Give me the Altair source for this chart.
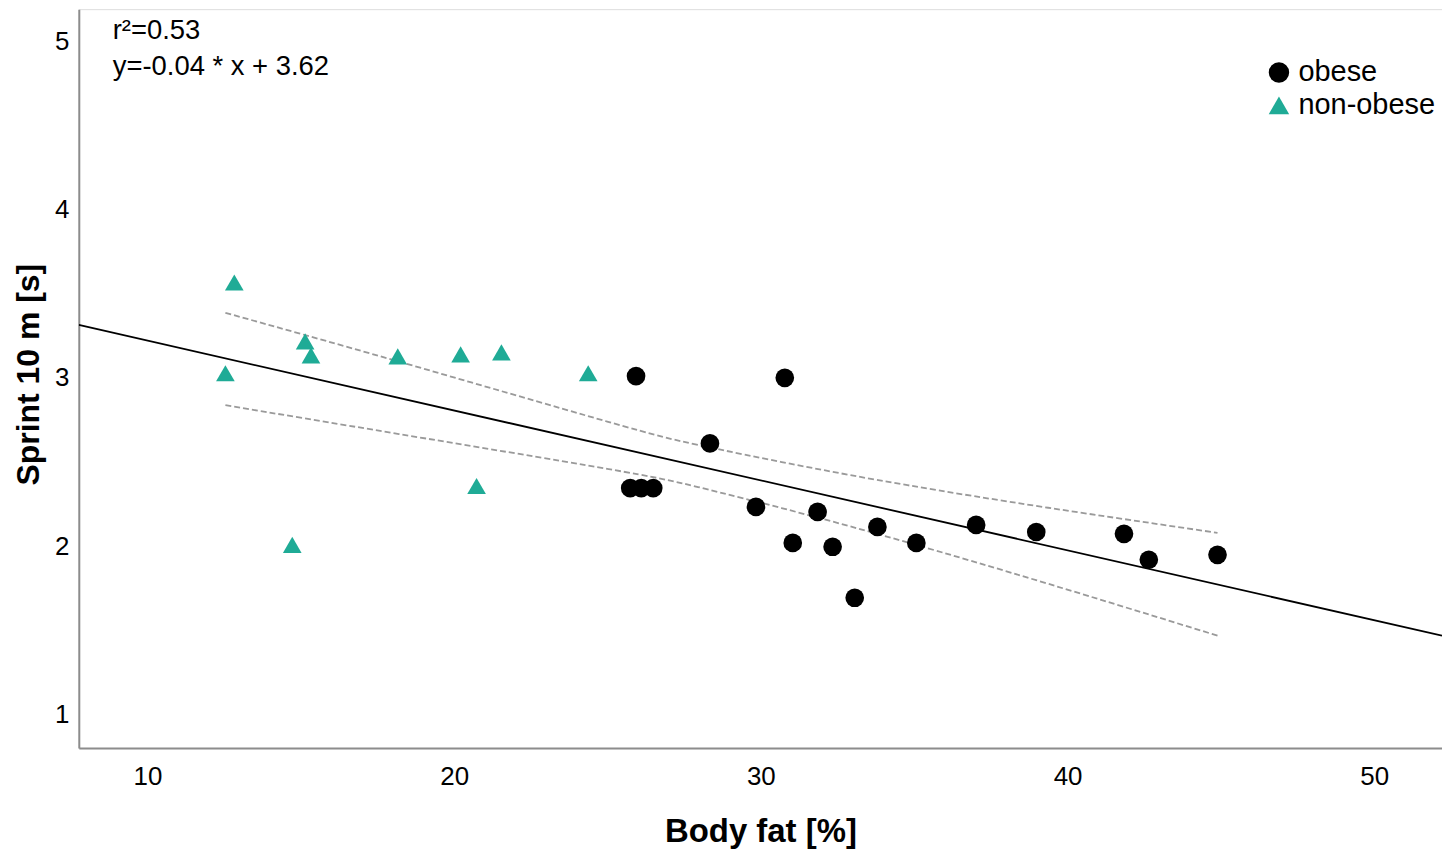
import altair as alt
import pandas as pd

# ---- data ----
obese_x = [25.93, 30.78, 28.34, 25.74, 26.10, 26.49, 29.84, 31.85, 31.04, 32.34,
           33.06, 33.80, 35.07, 37.02, 38.98, 41.84, 42.65, 44.89]
obese_y = [3.01, 3.00, 2.61, 2.345, 2.345, 2.345, 2.233, 2.203, 2.019, 1.996,
           1.693, 2.114, 2.019, 2.126, 2.084, 2.073, 1.919, 1.948]

nonobese_x = [12.83, 15.14, 15.33, 12.54, 18.16, 20.21, 21.54, 24.37, 20.73, 14.72]
nonobese_y = [3.566, 3.216, 3.133, 3.027, 3.127, 3.139, 3.151, 3.027, 2.357, 2.007]

fit_x = [7.76, 52.21]
fit_y = [3.314, 1.468]

ci_x = [12.54, 18.20, 24.99, 27.95, 31.20, 34.78, 39.37, 44.89]
ci_upper = [3.386, 3.096, 2.740, 2.601, 2.481, 2.362, 2.228, 2.079]
ci_lower = [2.837, 2.666, 2.459, 2.351, 2.201, 2.022, 1.776, 1.468]

groups = ["obese", "non-obese"]
annot_lines = ["r\u00b2=0.53", "y=-0.04 * x + 3.62"]
x_ticks = [10, 20, 30, 40, 50]
y_ticks = [1, 2, 3, 4, 5]
x_domain = [7.76, 52.21]
y_domain = [0.80, 5.19]

FONT = "Liberation Sans"

pts = pd.DataFrame({
    "x": obese_x + nonobese_x,
    "y": obese_y + nonobese_y,
    "group": [groups[0]] * len(obese_x) + [groups[1]] * len(nonobese_x),
})
fit = pd.DataFrame({"x": fit_x, "y": fit_y})
ci = pd.DataFrame({"x": ci_x + ci_x, "y": ci_upper + ci_lower,
                   "band": ["upper"] * len(ci_x) + ["lower"] * len(ci_x)})

xs = alt.Scale(domain=x_domain, nice=False, zero=False)
ys = alt.Scale(domain=y_domain, nice=False, zero=False)

xaxis = alt.Axis(values=x_ticks, format="d", ticks=False, tickSize=0, grid=False,
                 labelFontSize=26, labelPadding=15, title="Body fat [%]", titleFontSize=33,
                 titleFontWeight="bold", titlePadding=27, domainColor="#8c8c8c",
                 domainWidth=2, labelColor="black", titleColor="black",
                 labelFont=FONT, titleFont=FONT)
yaxis = alt.Axis(values=y_ticks, format="d", ticks=False, tickSize=0, grid=False,
                 labelFontSize=26, labelPadding=10, title="Sprint 10 m [s]", titleFontSize=32,
                 titleFontWeight="bold", titleX=-65, titleY=366, titleBaseline="top",
                 titleAngle=270, domainColor="#8c8c8c", domainWidth=2,
                 labelColor="black", titleColor="black", labelFont=FONT, titleFont=FONT)

ci_layer = alt.Chart(ci).mark_line(color="#9a9a9a", strokeWidth=1.8, strokeDash=[6, 3],
                                    interpolate="natural").encode(
    x=alt.X("x:Q", scale=xs, axis=xaxis),
    y=alt.Y("y:Q", scale=ys, axis=yaxis),
    detail="band:N",
)

fit_layer = alt.Chart(fit).mark_line(color="black", strokeWidth=1.8, clip=True).encode(
    x=alt.X("x:Q", scale=xs),
    y=alt.Y("y:Q", scale=ys),
)

pt_layer = alt.Chart(pts).mark_point(filled=True, size=350, opacity=1).encode(
    x=alt.X("x:Q", scale=xs),
    y=alt.Y("y:Q", scale=ys),
    color=alt.Color("group:N", scale=alt.Scale(domain=groups, range=["black", "#1fab96"]),
                    legend=alt.Legend(title=None, orient="none", legendX=1189, legendY=49,
                                      labelFontSize=29, labelFont=FONT, labelColor="black",
                                      symbolSize=420, labelOffset=5, rowPadding=3,
                                      padding=0, symbolStrokeWidth=0, symbolOpacity=1)),
    shape=alt.Shape("group:N", scale=alt.Scale(domain=groups, range=["circle", "triangle-up"])),
)

txt1 = alt.Chart(pd.DataFrame({"t": [annot_lines[0]]})).mark_text(
    align="left", baseline="alphabetic", fontSize=27.5, font=FONT, color="black").encode(
    text="t:N", x=alt.value(34), y=alt.value(30))
txt2 = alt.Chart(pd.DataFrame({"t": [annot_lines[1]]})).mark_text(
    align="left", baseline="alphabetic", fontSize=27.5, font=FONT, color="black").encode(
    text="t:N", x=alt.value(34), y=alt.value(66))

chart = alt.layer(ci_layer, fit_layer, pt_layer, txt1, txt2).properties(
    width=1367, height=741,
    autosize=alt.AutoSizeParams(type="none"),
    padding={"left": 71, "top": 0, "right": 0, "bottom": 100},
).configure_view(stroke=None).configure(background="white")

chart.save("out.html", embed_options={"renderer": "svg", "actions": False})
